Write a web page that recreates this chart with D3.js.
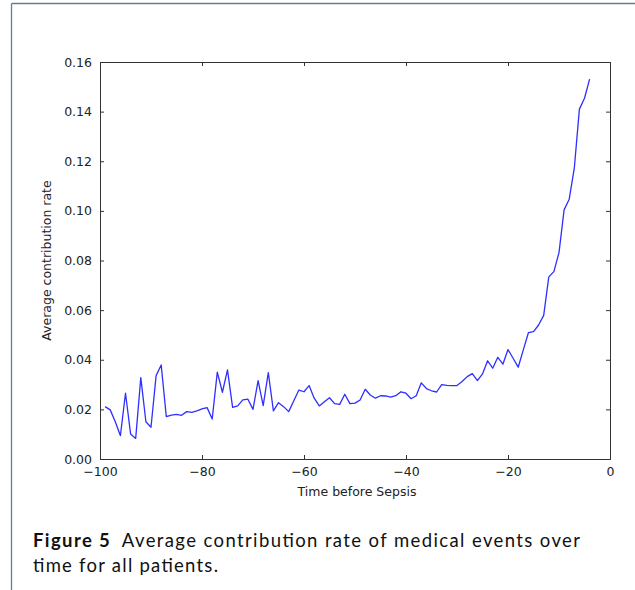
<!DOCTYPE html>
<html><head><meta charset="utf-8">
<script src="https://cdn.jsdelivr.net/npm/d3@7"></script>
<style>html,body{margin:0;padding:0;background:#fff;}svg{display:block;}</style>
</head><body>
<script>
const times = d3.range(-99, -3);
const rates = [0.0211,0.0198,0.0150,0.0094,0.0265,0.0101,0.0083,0.0328,0.0150,0.0128,
0.0336,0.0379,0.0171,0.0177,0.0180,0.0176,0.0191,0.0188,0.0194,0.0202,
0.0207,0.0161,0.0350,0.0269,0.0359,0.0208,0.0214,0.0238,0.0241,0.0200,
0.0316,0.0215,0.0348,0.0194,0.0227,0.0211,0.0191,0.0235,0.0278,0.0271,
0.0296,0.0245,0.0214,0.0231,0.0247,0.0223,0.0220,0.0261,0.0223,0.0225,
0.0238,0.0281,0.0258,0.0245,0.0255,0.0254,0.0249,0.0255,0.0271,0.0265,
0.0243,0.0255,0.0307,0.0284,0.0275,0.0270,0.0300,0.0297,0.0296,0.0296,
0.0312,0.0332,0.0344,0.0316,0.0343,0.0396,0.0366,0.0410,0.0382,0.0441,
0.0406,0.0370,0.0440,0.0509,0.0513,0.0540,0.0579,0.0734,0.0755,0.0832,
0.1004,0.1047,0.1172,0.1410,0.1454,0.1531];
const xTicks = [-100,-80,-60,-40,-20,0];
const yTicks = [0,0.02,0.04,0.06,0.08,0.10,0.12,0.14,0.16];

const W=635,H=590;
const svg=d3.select("body").append("svg").attr("width",W).attr("height",H);
// page frame
svg.append("line").attr("x1",11.5).attr("x2",635).attr("y1",3.5).attr("y2",3.5).attr("stroke","#5f7d9c").attr("stroke-width",1.3);
svg.append("line").attr("x1",11.5).attr("x2",11.5).attr("y1",3.5).attr("y2",590).attr("stroke","#5f7d9c").attr("stroke-width",1.3);

const L=100,R=610,T=62,B=459;
const x=d3.scaleLinear().domain([-100,0]).range([L,R]);
const y=d3.scaleLinear().domain([0,0.16]).range([B,T]);
const fmtX=d=>d<0?"\u2212"+Math.abs(d):String(d);
const font="DejaVu Sans";

const line=d3.line().x((d,i)=>x(times[i])).y(d=>y(d));
svg.append("path").datum(rates).attr("d",line).attr("fill","none").attr("stroke","#2f2fff").attr("stroke-width",1.3).attr("stroke-linejoin","round");

const g=svg.append("g");
const axB=g.append("g").attr("transform",`translate(0,${B})`).call(d3.axisBottom(x).tickValues(xTicks).tickSize(-4).tickPadding(8).tickFormat(fmtX));
const axT=g.append("g").attr("transform",`translate(0,${T})`).call(d3.axisTop(x).tickValues(xTicks).tickSize(-4).tickFormat(""));
const axL=g.append("g").attr("transform",`translate(${L},0)`).call(d3.axisLeft(y).tickValues(yTicks).tickSize(-4).tickPadding(8).tickFormat(d3.format(".2f")));
const axR=g.append("g").attr("transform",`translate(${R},0)`).call(d3.axisRight(y).tickValues(yTicks).tickSize(-4).tickFormat(""));
[axB,axT,axL,axR].forEach(a=>{
  a.selectAll(".domain").attr("stroke","#333").attr("stroke-width",1);
  a.selectAll(".tick line").attr("stroke","#333");
  a.selectAll("text").attr("font-family",font).attr("font-size",12.5).attr("fill","#222");
});

svg.append("text").attr("x",(L+R)/2+2).attr("y",496).attr("text-anchor","middle")
 .attr("font-family",font).attr("font-size",12.5).attr("fill","#222").text("Time before Sepsis");
svg.append("text").attr("transform",`translate(51,${(T+B)/2}) rotate(-90)`).attr("text-anchor","middle")
 .attr("font-family",font).attr("font-size",12.5).attr("fill","#222").text("Average contribution rate");

const cap=svg.append("text").attr("x",33).attr("y",547).attr("font-family","Lato").attr("font-size",18.5).attr("fill","#111")
 .attr("textLength",547).attr("lengthAdjust","spacing");
cap.append("tspan").attr("font-weight","bold").text("Figure 5");
cap.append("tspan").text("\u2002Average contribution rate of medical events over");
svg.append("text").attr("x",33).attr("y",572).attr("font-family","Lato").attr("font-size",18.5).attr("fill","#111")
 .attr("textLength",185).attr("lengthAdjust","spacing").text("time for all patients.");
</script>
</body></html>
